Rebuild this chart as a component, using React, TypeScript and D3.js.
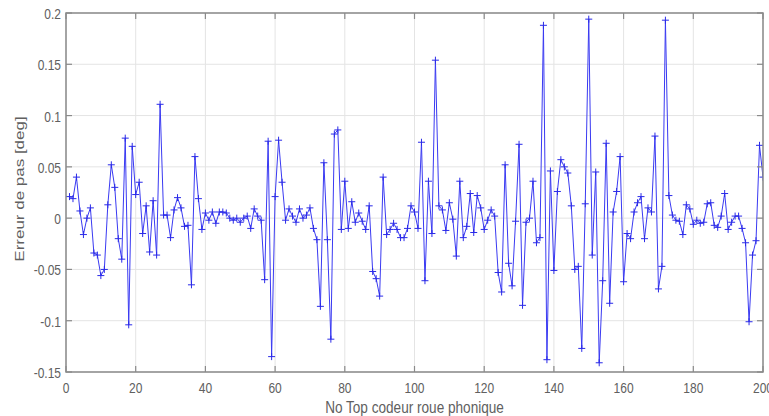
import React from "react";
import * as d3 from "d3";

const errorValues: number[] = [
  0.021, 0.019, 0.04, 0.007, -0.016, 0.0, 0.01, -0.034, -0.036, -0.056,
  -0.05, 0.013, 0.052, 0.03, -0.02, -0.04, 0.078, -0.104, 0.07, 0.023,
  0.035, -0.015, 0.012, -0.033, 0.017, -0.036, 0.111, 0.003, 0.003, -0.019,
  0.008, 0.02, 0.01, -0.008, -0.007, -0.065, 0.06, 0.019, -0.011, 0.005,
  -0.002, 0.006, -0.005, 0.006, 0.006, 0.005, 0.0, -0.002, 0.0, -0.004,
  0.0, 0.002, -0.01, 0.009, 0.002, -0.002, -0.06, 0.075, -0.135, 0.021,
  0.076, 0.035, -0.002, 0.009, 0.002, -0.004, 0.009, 0.0, 0.003, 0.01,
  -0.01, -0.021, -0.086, 0.054, -0.021, -0.118, 0.082, 0.086, -0.011, 0.036,
  -0.01, 0.016, -0.004, 0.005, -0.003, -0.011, 0.012, -0.052, -0.059, -0.076,
  0.04, -0.016, -0.011, -0.005, -0.011, -0.019, -0.019, -0.01, 0.012, 0.006,
  -0.01, 0.074, -0.061, 0.036, -0.015, 0.154, 0.012, 0.008, -0.012, 0.015,
  -0.001, -0.037, 0.036, -0.019, -0.008, 0.024, -0.014, 0.022, 0.01, -0.011,
  -0.002, 0.008, 0.002, -0.053, -0.072, 0.052, -0.044, -0.066, -0.003, 0.072,
  -0.085, -0.004, 0.0, 0.036, -0.024, -0.019, 0.188, -0.138, 0.046, -0.051,
  0.026, 0.057, 0.05, 0.044, 0.012, -0.05, -0.047, -0.127, 0.014, 0.194,
  -0.036, 0.045, -0.141, -0.061, 0.073, -0.083, 0.006, 0.026, 0.06, -0.062,
  -0.015, -0.02, 0.006, 0.015, 0.021, -0.02, 0.01, 0.006, 0.08, -0.069,
  -0.047, 0.193, 0.022, 0.003, -0.002, -0.003, -0.016, 0.013, 0.009, -0.006,
  -0.002, -0.005, -0.004, 0.014, 0.015, -0.007, -0.009, 0.002, 0.024, -0.011,
  -0.004, 0.002, 0.002, -0.01, -0.024, -0.101, -0.036, -0.022, 0.071, 0.04,
];

const xTicks: number[] = [0, 20, 40, 60, 80, 100, 120, 140, 160, 180, 200];
const yTicks: number[] = [-0.15, -0.1, -0.05, 0, 0.05, 0.1, 0.15, 0.2];
const yTickLabels: string[] = ["-0.15", "-0.1", "-0.05", "0", "0.05", "0.1", "0.15", "0.2"];
const xLabel = "No Top codeur roue phonique";
const yLabel = "Erreur de pas [deg]";

const W = 769;
const H = 416;
const L = 66;
const R = 763;
const T = 13;
const B = 372;

export default function App() {
  const x = d3.scaleLinear().domain([0, 200]).range([L, R]);
  const y = d3.scaleLinear().domain([-0.15, 0.2]).range([B, T]);
  const pts = errorValues.map((v, i) => ({ xv: i + 1, yv: v }));
  const line = d3
    .line<{ xv: number; yv: number }>()
    .x((d) => x(d.xv))
    .y((d) => y(d.yv));
  const textColor = "#606060";
  const axisColor = "#8a8a8a";
  const gridColor = "#e4e4e4";
  const font = "'Liberation Sans', Arial, sans-serif";
  const sx = 0.8;
  const tick = 6;
  const m = 3.5;

  return (
    <svg
      width={W}
      height={H}
      style={{ position: "absolute", left: 0, top: 0, background: "#fff" }}
      fontFamily={font}
    >
      <defs>
        <clipPath id="plotClip">
          <rect x={L} y={T - 4} width={R - L} height={B - T + 8} />
        </clipPath>
      </defs>
      <rect x={0} y={0} width={W} height={H} fill="#fff" />
      {xTicks.map((t) => (
        <line key={"gx" + t} x1={x(t)} x2={x(t)} y1={T} y2={B} stroke={gridColor} strokeWidth={1} />
      ))}
      {yTicks.map((t) => (
        <line key={"gy" + t} x1={L} x2={R} y1={y(t)} y2={y(t)} stroke={gridColor} strokeWidth={1} />
      ))}
      <g clipPath="url(#plotClip)">
        <path d={line(pts) || ""} fill="none" stroke="#3a3af2" strokeWidth={1} />
        {pts.map((d, i) => (
          <path
            key={"m" + i}
            d={`M${x(d.xv) - m},${y(d.yv)}H${x(d.xv) + m}M${x(d.xv)},${y(d.yv) - m}V${y(d.yv) + m}`}
            stroke="#2a2ae8"
            strokeWidth={1}
            fill="none"
          />
        ))}
      </g>
      <rect x={L} y={T} width={R - L} height={B - T} fill="none" stroke={axisColor} strokeWidth={1.5} />
      {xTicks.map((t) => (
        <g key={"tx" + t}>
          <line x1={x(t)} x2={x(t)} y1={B} y2={B - tick} stroke={axisColor} strokeWidth={1.2} />
          <line x1={x(t)} x2={x(t)} y1={T} y2={T + tick} stroke={axisColor} strokeWidth={1.2} />
          <g transform={`translate(${x(t)},${B + 16}) scale(${sx},1)`}>
            <text textAnchor="middle" dominantBaseline="central" fontSize={15} fill={textColor}>
              {String(t)}
            </text>
          </g>
        </g>
      ))}
      {yTicks.map((t, i) => (
        <g key={"ty" + t}>
          <line x1={L} x2={L + tick} y1={y(t)} y2={y(t)} stroke={axisColor} strokeWidth={1.2} />
          <line x1={R} x2={R - tick} y1={y(t)} y2={y(t)} stroke={axisColor} strokeWidth={1.2} />
          <g transform={`translate(${L - 5},${y(t) + 1}) scale(${sx},1)`}>
            <text textAnchor="end" dominantBaseline="central" fontSize={15} fill={textColor}>
              {yTickLabels[i]}
            </text>
          </g>
        </g>
      ))}
      <g transform={`translate(${(L + R) / 2},${407}) scale(${sx},1)`}>
        <text textAnchor="middle" dominantBaseline="central" fontSize={17} fill={textColor}>
          {xLabel}
        </text>
      </g>
      <g transform={`translate(${19},${189}) scale(${sx},1) rotate(-90)`}>
        <text textAnchor="middle" dominantBaseline="central" fontSize={17} fill={textColor}>
          {yLabel}
        </text>
      </g>
    </svg>
  );
}
